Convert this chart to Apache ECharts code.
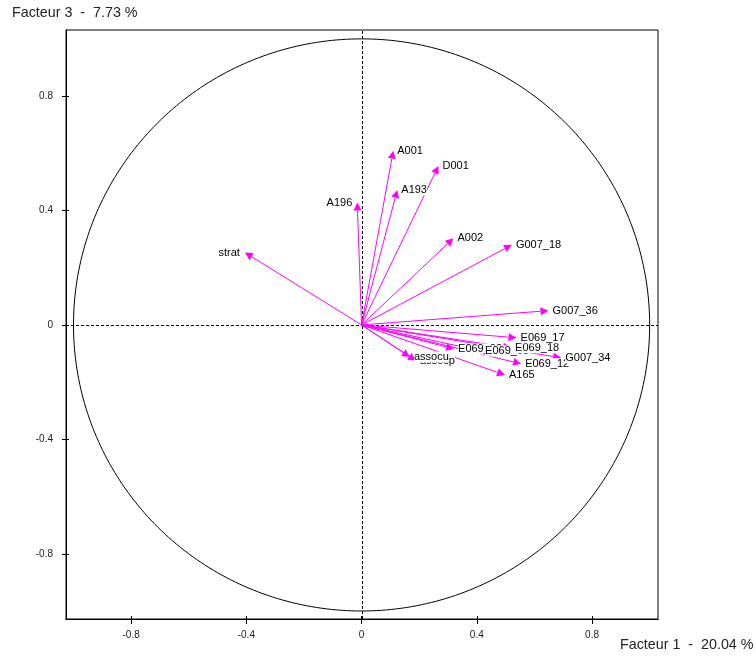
<!DOCTYPE html>
<html><head><meta charset="utf-8">
<script src="https://cdn.jsdelivr.net/npm/echarts@6/dist/echarts.min.js"></script>
<style>html,body{margin:0;padding:0;background:#fff}#c{width:756px;height:656px}</style>
</head><body><div id="c"></div>
<script>
// ---- data ----
const varNames = ['A001','D001','A193','A196','A002','G007_18','strat','G007_36',
  'assocp','assocu','E069_02','E069_08','E069_18','E069_17','E069_12','G007_34','A165'];
const factor1 = [0.110, 0.267, 0.124, -0.015, 0.319, 0.522, -0.405, 0.649,
  0.189, 0.168, 0.321, 0.415, 0.519, 0.538, 0.554, 0.693, 0.498];
const factor3 = [0.609, 0.556, 0.472, 0.428, 0.303, 0.280, 0.253, 0.050,
  -0.125, -0.112, -0.084, -0.091, -0.080, -0.045, -0.136, -0.115, -0.175];
const tickValues = [-0.8, -0.4, 0, 0.4, 0.8];
const xTitle = 'Facteur 1  -  20.04 %';
const yTitle = 'Facteur 3  -  7.73 %';

// ---- chart ----
const X_MIN = -1.026, X_MAX = 1.029, Y_MIN = -1.028, Y_MAX = 1.031;
const FONT = '"Liberation Sans", Arial, sans-serif';
const leftLabelled = new Set(['A196', 'strat']);
const arrowData = varNames.map((n, i) => [factor1[i], factor3[i]]);

function arrowItem(params, api) {
  const o = api.coord([0, 0]);
  const p = api.coord([api.value(0), api.value(1)]);
  const dx = p[0] - o[0], dy = p[1] - o[1];
  const L = Math.hypot(dx, dy) || 1;
  const ux = dx / L, uy = dy / L;
  const hl = 8, hw = 4;
  const bx = p[0] - ux * hl, by = p[1] - uy * hl;
  return { type: 'group', children: [
    { type: 'line', shape: { x1: o[0], y1: o[1], x2: bx, y2: by }, style: { stroke: '#ff00ff', lineWidth: 1 } },
    { type: 'polygon', shape: { points: [[p[0], p[1]], [bx - uy * hw, by + ux * hw], [bx + uy * hw, by - ux * hw]] },
      style: { fill: '#ff00ff' } }
  ]};
}
function labelItem(params, api) {
  const p = api.coord([api.value(0), api.value(1)]);
  const name = varNames[params.dataIndex];
  const left = leftLabelled.has(name);
  return { type: 'text', x: left ? p[0] - 5 : p[0] + 4, y: p[1],
    style: { text: name, fill: '#000', font: '11px ' + FONT, align: left ? 'right' : 'left',
      verticalAlign: 'middle', backgroundColor: '#fff' } };
}
function circleItem(params, api) {
  const pts = [];
  for (let k = 0; k <= 360; k++) {
    const t = k * Math.PI / 180;
    pts.push(api.coord([Math.cos(t), Math.sin(t)]));
  }
  return { type: 'polyline', shape: { points: pts }, style: { stroke: '#000', lineWidth: 1, fill: null } };
}
function axesItem(params, api) {
  const a = api.coord([X_MIN, 0]), b = api.coord([X_MAX, 0]);
  const c = api.coord([0, Y_MIN]), d = api.coord([0, Y_MAX]);
  const st = { stroke: '#000', lineWidth: 1, lineDash: [3, 2] };
  return { type: 'group', children: [
    { type: 'line', shape: { x1: a[0], y1: Math.round(a[1]) + 0.5, x2: b[0], y2: Math.round(b[1]) + 0.5 }, style: st },
    { type: 'line', shape: { x1: Math.round(c[0]) + 0.5, y1: c[1], x2: Math.round(d[0]) + 0.5, y2: d[1] }, style: st }
  ]};
}

const chart = echarts.init(document.getElementById('c'), null, { renderer: 'canvas' });
const axisCommon = {
  type: 'value', splitLine: { show: false },
  axisLine: { show: true, onZero: false, lineStyle: { color: '#000', width: 1 } }
};
chart.setOption({
  animation: false,
  backgroundColor: '#fff',
  grid: { left: 66, right: 98, top: 30, bottom: 37, show: true, borderColor: '#000', borderWidth: 1,
    containLabel: false, outerBoundsMode: 'none' },
  xAxis: [
    Object.assign({}, axisCommon, { min: X_MIN, max: X_MAX, position: 'bottom',
      axisTick: { show: true, customValues: tickValues, length: 5, lineStyle: { color: '#000' } },
      axisLabel: { show: true, customValues: tickValues, margin: 11, color: '#222', fontSize: 10, fontFamily: FONT,
        formatter: v => String(v) } }),
    Object.assign({}, axisCommon, { min: X_MIN, max: X_MAX, position: 'bottom',
      axisTick: { show: true, inside: true, customValues: tickValues, length: 3, lineStyle: { color: '#000' } },
      axisLabel: { show: false } })
  ],
  yAxis: [
    Object.assign({}, axisCommon, { min: Y_MIN, max: Y_MAX, position: 'left',
      axisTick: { show: true, customValues: tickValues, length: 4, lineStyle: { color: '#000' } },
      axisLabel: { show: true, customValues: tickValues, margin: 13, color: '#222', fontSize: 10, fontFamily: FONT,
        formatter: v => String(v) } }),
    Object.assign({}, axisCommon, { min: Y_MIN, max: Y_MAX, position: 'left',
      axisTick: { show: true, inside: true, customValues: tickValues, length: 3, lineStyle: { color: '#000' } },
      axisLabel: { show: false } })
  ],
  graphic: [
    { type: 'text', left: 12, top: 6, style: { text: yTitle, font: '14.3px ' + FONT, fill: '#222' } },
    { type: 'text', left: 620, top: 638, style: { text: xTitle, font: '14.3px ' + FONT, fill: '#222' } }
  ],
  series: [
    { type: 'custom', name: 'circle', data: [[0, 0]], renderItem: circleItem, silent: true, z: 1 },
    { type: 'custom', name: 'axes', data: [[0, 0]], renderItem: axesItem, silent: true, z: 2 },
    { type: 'custom', name: 'arrows', data: arrowData, renderItem: arrowItem, z: 3 },
    { type: 'custom', name: 'labels', data: arrowData, renderItem: labelItem, z: 4 }
  ]
});
</script>
</body></html>
